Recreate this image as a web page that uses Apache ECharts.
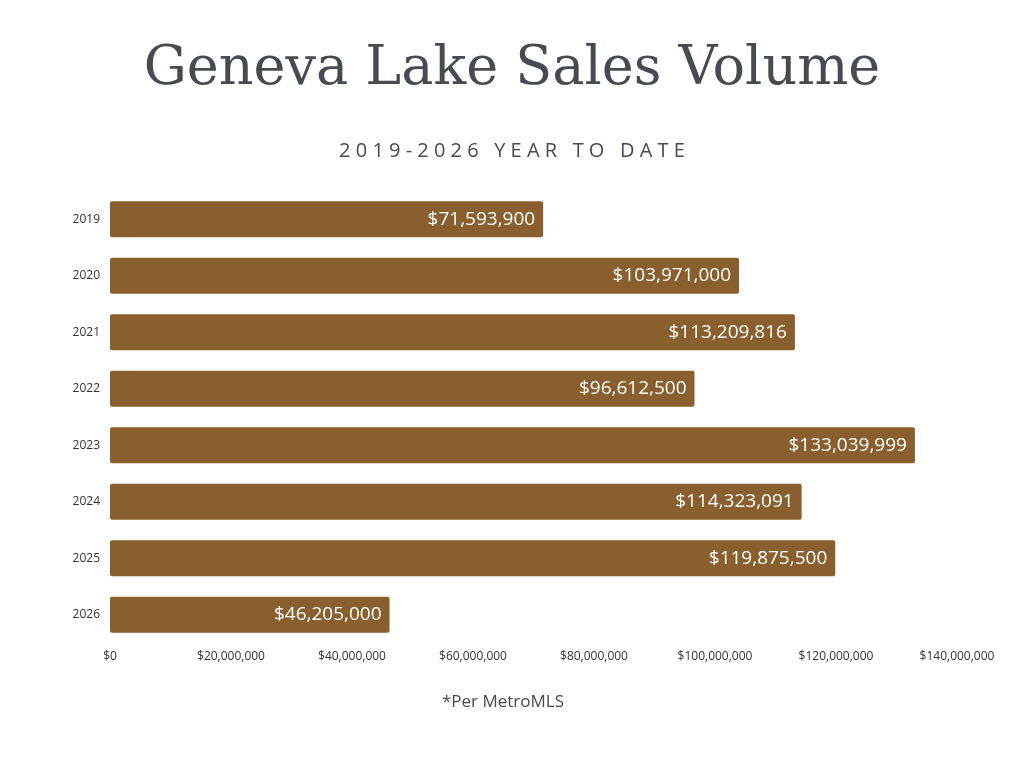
<!DOCTYPE html>
<html><head><meta charset="utf-8">
<script src="https://cdn.jsdelivr.net/npm/echarts@6/dist/echarts.min.js"></script>
<style>html,body{margin:0;padding:0;background:#fff}#c{width:1024px;height:768px}</style>
</head><body><div id="c"></div>
<script>
const categories = ['2019','2020','2021','2022','2023','2024','2025','2026'];
const values = [71593900,103971000,113209816,96612500,133039999,114323091,119875500,46205000];
const xTicks = [0,20000000,40000000,60000000,80000000,100000000,120000000,140000000];
const fmt = v => '$' + v.toLocaleString('en-US');
const chart = echarts.init(document.getElementById('c'));
chart.setOption({
  backgroundColor:'#fff',
  title:[
    {text:'Geneva Lake Sales Volume',left:'center',top:38,textStyle:{fontFamily:'DejaVu Serif, serif',fontWeight:'normal',fontSize:54,color:'#454b50'}},
    {text:'2 0 1 9 - 2 0 2 6   Y E A R   T O   D A T E',left:'center',top:136,textStyle:{fontFamily:'Open Sans',fontWeight:'normal',fontSize:20,color:'#454b50'}},
    {text:'*Per MetroMLS',left:498,textAlign:'center',top:689,textStyle:{fontFamily:'Open Sans',fontWeight:'normal',fontSize:17,color:'#454b50'}}
  ],
  grid:{left:110,right:67,top:191,bottom:125,containLabel:false},
  xAxis:{type:'value',min:0,max:140000000,interval:20000000,
    axisLine:{show:false},axisTick:{show:false},splitLine:{show:false},
    axisLabel:{formatter:v=>fmt(v),fontSize:12,color:'#333',fontFamily:'Open Sans',margin:8}},
  yAxis:{type:'category',data:categories,inverse:true,
    axisLine:{show:false},axisTick:{show:false},
    axisLabel:{fontSize:12,color:'#333',fontFamily:'Open Sans',margin:10}},
  series:[{type:'bar',data:values,barWidth:36,
    itemStyle:{color:'#8a5f2e',borderRadius:2},
    label:{show:true,position:'insideRight',formatter:p=>fmt(p.value),color:'#fff',fontSize:19,fontFamily:'Open Sans',distance:8}}]
});
</script></body></html>
